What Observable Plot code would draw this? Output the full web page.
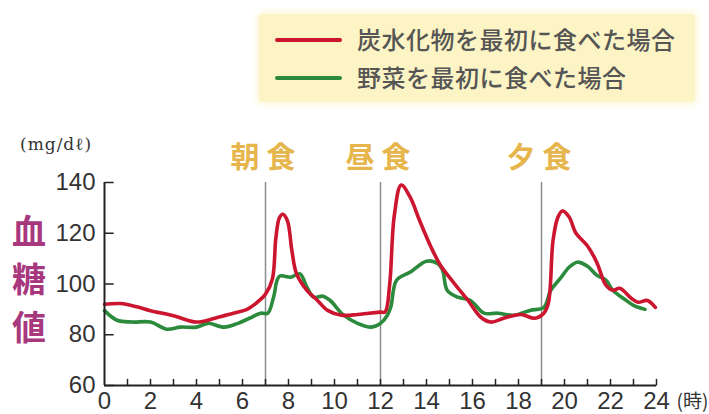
<!DOCTYPE html>
<html>
<head>
<meta charset="utf-8">
<script src="https://cdn.jsdelivr.net/npm/d3@7"></script>
<script src="https://cdn.jsdelivr.net/npm/@observablehq/plot@0.6"></script>
<style>
  html, body { margin: 0; padding: 0; background: #fff; }
  #wrap { position: relative; width: 709px; height: 414px; overflow: hidden; background: #fff; }
  #legend { position: absolute; left: 259px; top: 14px; width: 436px; height: 88px;
    background: #fcf4c4; border-radius: 4px; box-shadow: 0 0 6px 3px #fdf8dc;
    font-family: "Noto Sans CJK JP", sans-serif; font-weight: 500; color: #555; font-size: 24px; }
  .lg { position: absolute; left: 98px; line-height: 30px; white-space: nowrap; letter-spacing: 0.5px; }
  .sw { position: absolute; left: 16px; width: 67px; height: 4px; border-radius: 2px; }
  #ylab { position: absolute; left: 9px; top: 206px; width: 40px; font-family: "Noto Sans CJK JP", sans-serif;
    font-weight: 700; font-size: 34px; line-height: 48px; color: #a8387e; text-align: center; }
  #unit { position: absolute; left: 20px; top: 134px; font-family: "DejaVu Serif", serif;
    font-size: 17px; letter-spacing: 1px; color: #333; white-space: nowrap; }
  #chart { position: absolute; left: 0; top: 0; }
</style>
</head>
<body>
<div id="wrap">
  <div id="chart"></div>
  <div id="legend"></div>
  <div id="ylab"></div>
  <div id="unit"></div>
</div>
<script>
// ---- data ----
const seriesNames = ["炭水化物を最初に食べた場合", "野菜を最初に食べた場合"];
const seriesColors = ["#cc1630", "#2b8a3c"];

const redHours = [0, 0.7, 1.4, 2, 3, 4, 4.8, 5.6, 6.2, 6.6, 7.0, 7.3, 7.45, 7.6, 7.75, 7.95, 8.15, 8.35, 8.8, 9.25, 9.7, 10.3, 11.0, 11.5, 12.0, 12.2, 12.4, 12.6, 12.9, 13.3, 13.7, 14.2, 14.6, 15.2, 15.8, 16.35, 16.8, 17.35, 18.1, 18.7, 19.1, 19.3, 19.5, 19.7, 19.9, 20.2, 20.5, 21.0, 21.4, 21.8, 22.1, 22.4, 22.9, 23.2, 23.6, 23.95];
const redValues = [92, 92.3, 91, 89.5, 87.5, 85, 86.5, 88.5, 90, 92.5, 96, 102, 118, 126, 127.5, 125, 113, 104, 97.5, 93.6, 89.6, 87.7, 88, 88.5, 88.9, 89, 100, 127, 139, 134, 125, 114.5, 107.5, 100.3, 93.6, 87, 85, 86.5, 88, 86.5, 88.5, 92.5, 117, 126, 128.8, 126.4, 120, 115, 108.6, 99.5, 97.5, 98.3, 94.4, 92.8, 93.5, 90.8];

const greenHours = [0, 0.55, 1.2, 2.0, 2.7, 3.3, 4.0, 4.5, 5.2, 5.8, 6.3, 6.8, 7.1, 7.35, 7.6, 8.1, 8.5, 8.8, 9.1, 9.5, 9.8, 10.4, 11.0, 11.6, 12.0, 12.3, 12.45, 12.7, 13.3, 14.0, 14.5, 14.7, 14.9, 15.35, 15.9, 16.5, 17.1, 17.8, 18.5, 19.1, 19.4, 19.8, 20.2, 20.55, 21.0, 21.4, 21.8, 22.1, 22.55, 23.0, 23.5];
const greenValues = [89.5, 85.7, 85, 85, 82.2, 83, 83, 84.5, 83, 84.5, 86.5, 88.5, 88.5, 94.8, 103, 102.7, 104, 98.7, 94.8, 95.2, 93.6, 87.7, 84.5, 83, 84.5, 87.7, 91, 101.5, 104.7, 109, 108, 105.5, 97.5, 94.8, 93.6, 88.5, 88.5, 87.7, 89.6, 90.8, 97.5, 102, 106.6, 108.6, 107, 103.5, 101.5, 97.5, 94.4, 91.6, 90];

const mealNames = ["朝食", "昼食", "夕食"];
const mealHours = [7, 12, 19];

const yTicks = [60, 80, 100, 120, 140];
const xTickLabels = [0, 2, 4, 6, 8, 10, 12, 14, 16, 18, 20, 22, 24];
const minorHours = d3.range(1, 25);

const yAxisTitle = "血糖値";
const unitText = "(mg/dℓ)";
const xUnitText = "(時)";

// ---- build ----
const red = redHours.map((h, i) => ({hour: h, value: redValues[i]}));
const green = greenHours.map((h, i) => ({hour: h, value: greenValues[i]}));
const meals = mealHours.map((h, i) => ({hour: h, name: mealNames[i]}));

const plot = Plot.plot({
  width: 709,
  height: 414,
  marginLeft: 104,
  marginRight: 53,
  marginTop: 182,
  marginBottom: 29,
  style: {fontFamily: "'Liberation Sans', Arial, sans-serif", background: "transparent", overflow: "visible"},
  x: {domain: [0, 24], axis: null},
  y: {domain: [60, 140], axis: null},
  marks: [
    Plot.ruleX(meals, {x: "hour", y1: 60, y2: 140, stroke: "#8c8c8c", strokeWidth: 1.5}),
    Plot.line(green, {x: "hour", y: "value", stroke: seriesColors[1], strokeWidth: 3.6, curve: "catmull-rom"}),
    Plot.line(red, {x: "hour", y: "value", stroke: seriesColors[0], strokeWidth: 3.6, curve: "catmull-rom"}),
    Plot.ruleX([0], {y1: 60, y2: 140, stroke: "#222", strokeWidth: 2}),
    Plot.ruleY([60], {x1: 0, x2: 24, stroke: "#222", strokeWidth: 2}),
    Plot.link(yTicks, {x1: 0, x2: 0.4, y1: d => d, y2: d => d, stroke: "#222", strokeWidth: 1.5}),
    Plot.link(minorHours, {x1: d => d, x2: d => d, y1: 60, y2: 62.6, stroke: "#222", strokeWidth: 1.5}),
    Plot.text(yTicks, {x: 0, y: d => d, text: d => String(d), textAnchor: "end", dx: -9, fontSize: 24, fill: "#333"}),
    Plot.text(xTickLabels, {x: d => d, y: 60, text: d => String(d), dy: 16, fontSize: 24, fill: "#333"}),
    Plot.text([xUnitText], {x: 24, y: 60, text: d => d, dx: 36, dy: 16, fontSize: 19, fill: "#333",
      fontFamily: "'Noto Sans CJK JP', sans-serif"}),
    Plot.text(meals, {x: "hour", y: 140, text: "name", dy: -24, dx: 1, fontSize: 29, fontWeight: "bold",
      fill: "#e6b64c", fontFamily: "'Noto Sans CJK JP', sans-serif"})
  ]
});
plot.querySelectorAll("text").forEach(t => {
  if (mealNames.includes(t.textContent)) t.setAttribute("letter-spacing", "7");
});
document.getElementById("chart").appendChild(plot);

// legend
const legend = document.getElementById("legend");
seriesNames.forEach((name, i) => {
  const top = i === 0 ? 10 : 48;
  const sw = document.createElement("div");
  sw.className = "sw";
  sw.style.top = (top + 14) + "px";
  sw.style.background = seriesColors[i];
  legend.appendChild(sw);
  const t = document.createElement("div");
  t.className = "lg";
  t.style.top = top + "px";
  t.textContent = name;
  legend.appendChild(t);
});
document.getElementById("ylab").innerHTML = yAxisTitle.split("").map(c => `<div>${c}</div>`).join("");
document.getElementById("unit").textContent = unitText;
</script>
</body>
</html>
